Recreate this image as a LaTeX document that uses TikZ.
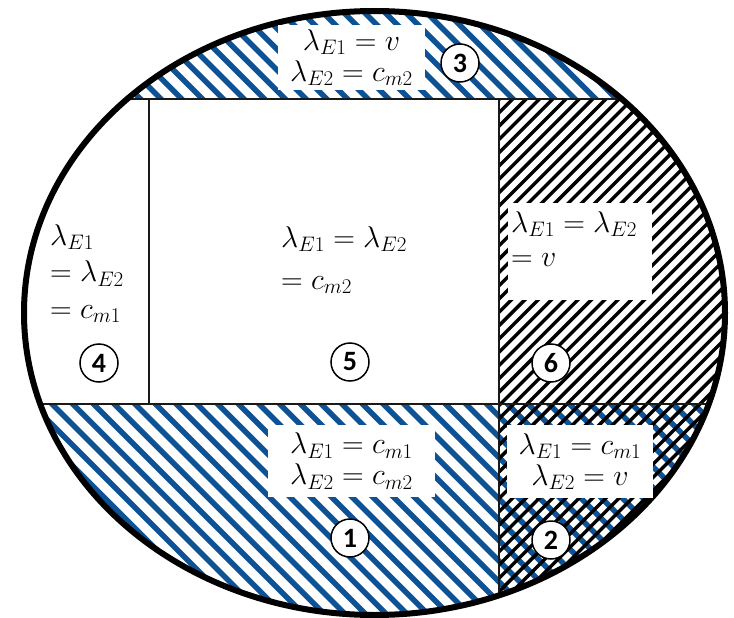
\RequirePackage{fix-cm}
\documentclass[tikz,border=0pt]{standalone}
\usepackage{fontspec}
\newfontfamily\numfont{Carlito}
\definecolor{hblue}{RGB}{14,82,150}
\tikzset{
  lab/.style={fill=white, inner sep=0pt, font=\fontsize{30}{31}\selectfont, align=center},
  plainlab/.style={inner sep=0pt, align=left},
  num/.style={circle, draw, line width=1.5pt, fill=white, minimum size=38pt, inner sep=0pt, font=\numfont\bfseries\fontsize{28}{28}\selectfont},
  divline/.style={line width=1.5pt, black!90},
  bluehatch/.style={hblue, line width=5.5pt},
  blackhatch/.style={black, line width=3.4pt},
  rim/.style={line width=6pt, black}
}
\begin{document}
\begin{tikzpicture}[x=1pt,y=-1pt]
\useasboundingbox (0,0) rectangle (734,618);
\def\ellpath{(374.5,313) ellipse [x radius=350.5pt, y radius=302pt]}
\begin{scope}
  \clip \ellpath;
  % region 3 (top band)
  \begin{scope}
    \clip (0,0) rectangle (734,99);
    \foreach \n in {-36,...,37} {\draw[bluehatch] ({\n*20.7},0) -- ({\n*20.7+700},700);}
  \end{scope}
  % regions 1 and 2 (bottom band, blue)
  \begin{scope}
    \clip (0,404) rectangle (734,618);
    \foreach \n in {-36,...,37} {\draw[bluehatch] ({\n*20.7},0) -- ({\n*20.7+700},700);}
  \end{scope}
  % regions 6 and 2 (right column, black)
  \begin{scope}
    \clip (499,99) rectangle (734,618);
    \foreach \n in {0,...,110} {\draw[blackhatch] ({\n*13.3},0) -- ({\n*13.3-700},700);}
  \end{scope}
  % dividing lines
  \draw[divline] (0,99) -- (734,99);
  \draw[divline] (0,404) -- (734,404);
  \draw[divline] (149,99) -- (149,404);
  \draw[divline] (499,99) -- (499,618);
\end{scope}
\draw[rim] \ellpath;

% region 3
\node[lab, minimum width=147pt, minimum height=65pt] (t3) at (351.5,57.5)
  {$\lambda_{E1}=v$\\$\lambda_{E2}=c_{m2}$};
\node[num] (n3) at (460,63) {3};

% region 4
\node[plainlab, anchor=north west, font=\fontsize{30}{36.5}\selectfont] (t4) at (50,224)
  {$\lambda_{E1}$\\$=\lambda_{E2}$\\$=c_{m1}$};
\node[num] (n4) at (99,363) {4};

% region 5
\node[plainlab, anchor=north west, font=\fontsize{30}{42}\selectfont] (t5) at (281,226)
  {$\lambda_{E1}=\lambda_{E2}$\\$=c_{m2}$};
\node[num] (n5) at (350,362) {5};

% region 6
\node[fill=white, minimum width=144pt, minimum height=97pt, inner sep=0pt] (b6) at (580,251.5) {};
\node[plainlab, anchor=north west, font=\fontsize{30}{34}\selectfont] (t6) at (511,211)
  {$\lambda_{E1}=\lambda_{E2}$\\$=v$};
\node[num] (n6) at (551,363) {6};

% region 1
\node[lab, minimum width=167pt, minimum height=72pt] (t1) at (351.5,461)
  {$\lambda_{E1}=c_{m1}$\\$\lambda_{E2}=c_{m2}$};
\node[num] (n1) at (350,538) {1};

% region 2
\node[lab, minimum width=146pt, minimum height=73pt] (t2) at (580,461.5)
  {$\lambda_{E1}=c_{m1}$\\$\lambda_{E2}=v$};
\node[num] (n2) at (551,540) {2};
\end{tikzpicture}
\end{document}
